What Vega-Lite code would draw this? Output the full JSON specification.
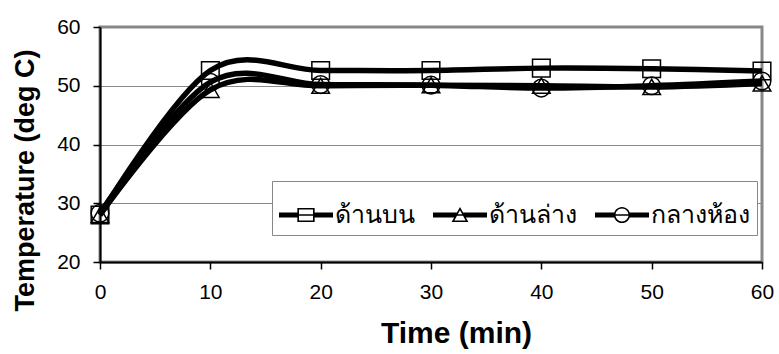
{
  "$schema": "https://vega.github.io/schema/vega-lite/v6.json",
  "width": 662,
  "height": 235,
  "autosize": "none",
  "padding": {"left": 100, "top": 27, "right": 17, "bottom": 92},
  "background": "white",
  "config": {
    "view": {"stroke": "#888888", "strokeWidth": 3},
    "font": "Liberation Sans"
  },
  "data": {
    "values": [
      {"series": "ด้านบน", "time": 0, "temp": 28.0},
      {"series": "ด้านบน", "time": 10, "temp": 52.6},
      {"series": "ด้านบน", "time": 20, "temp": 52.6},
      {"series": "ด้านบน", "time": 30, "temp": 52.6},
      {"series": "ด้านบน", "time": 40, "temp": 53.0},
      {"series": "ด้านบน", "time": 50, "temp": 52.9},
      {"series": "ด้านบน", "time": 60, "temp": 52.5},
      {"series": "ด้านล่าง", "time": 0, "temp": 28.0},
      {"series": "ด้านล่าง", "time": 10, "temp": 49.3},
      {"series": "ด้านล่าง", "time": 20, "temp": 50.0},
      {"series": "ด้านล่าง", "time": 30, "temp": 50.1},
      {"series": "ด้านล่าง", "time": 40, "temp": 50.0},
      {"series": "ด้านล่าง", "time": 50, "temp": 49.8},
      {"series": "ด้านล่าง", "time": 60, "temp": 50.4},
      {"series": "กลางห้อง", "time": 0, "temp": 28.3},
      {"series": "กลางห้อง", "time": 10, "temp": 50.6},
      {"series": "กลางห้อง", "time": 20, "temp": 50.2},
      {"series": "กลางห้อง", "time": 30, "temp": 50.1},
      {"series": "กลางห้อง", "time": 40, "temp": 49.6},
      {"series": "กลางห้อง", "time": 50, "temp": 50.0},
      {"series": "กลางห้อง", "time": 60, "temp": 50.8}
    ]
  },
  "encoding": {
    "x": {
      "field": "time",
      "type": "quantitative",
      "scale": {"domain": [0, 60], "nice": false, "zero": false},
      "axis": {
        "values": [0, 10, 20, 30, 40, 50, 60],
        "grid": false,
        "domainColor": "black",
        "domainWidth": 2,
        "tickColor": "black",
        "tickWidth": 1.5,
        "tickSize": 7,
        "labelFontSize": 21,
        "labelColor": "black",
        "labelPadding": 12,
        "labelFlush": false,
        "labelOverlap": false,
        "title": "Time (min)",
        "titleFontSize": 30,
        "titleFontWeight": "bold",
        "titleColor": "black",
        "titleX": 356,
        "titleY": 80,
        "titleBaseline": "alphabetic",
        "titleAlign": "center"
      }
    },
    "y": {
      "field": "temp",
      "type": "quantitative",
      "scale": {"domain": [20, 60], "nice": false, "zero": false},
      "axis": {
        "values": [20, 30, 40, 50, 60],
        "grid": true,
        "gridColor": "#888888",
        "gridWidth": 1,
        "domainColor": "black",
        "domainWidth": 2,
        "tickColor": "black",
        "tickWidth": 1.5,
        "tickSize": 7,
        "labelFontSize": 21,
        "labelColor": "black",
        "labelPadding": 13,
        "labelOverlap": false,
        "title": "Temperature (deg C)",
        "titleFontSize": 27,
        "titleFontWeight": "bold",
        "titleColor": "black",
        "titleX": -67,
        "titleY": 153,
        "titleBaseline": "alphabetic",
        "titleAlign": "center",
        "titleAngle": 270
      }
    }
  },
  "layer": [
    {
      "mark": {"type": "line", "interpolate": "cardinal", "strokeWidth": 5.5, "color": "black", "clip": false},
      "encoding": {"detail": {"field": "series", "type": "nominal"}}
    },
    {
      "mark": {"type": "point", "filled": false, "size": 310, "strokeWidth": 1.5, "color": "black", "opacity": 1, "clip": false},
      "encoding": {
        "shape": {
          "field": "series",
          "type": "nominal",
          "sort": null,
          "scale": {"domain": ["ด้านบน", "ด้านล่าง", "กลางห้อง"], "range": ["square", "triangle-up", "circle"]},
          "legend": null
        }
      }
    },
    {
      "mark": {"type": "point", "filled": true, "size": 1, "color": "black", "opacity": 0, "clip": false},
      "encoding": {
        "shape": {
          "field": "series",
          "type": "nominal",
          "sort": null,
          "scale": {
            "domain": ["ด้านบน", "ด้านล่าง", "กลางห้อง"],
            "range": [
              "M-1,-0.09H-0.32V0.09H-1Z M0.32,-0.09H1V0.09H0.32Z M-0.32,-0.26H0.32V0.26H-0.32Z M-0.26,-0.2V0.2H0.26V-0.2Z M-0.26,-0.025H0.26V0.025H-0.26Z",
              "M-1,-0.09L-0.116,-0.09L-0.216,0.09L-1,0.09Z M0.116,-0.09L1,-0.09L1,0.09L0.216,0.09Z M0,-0.3L0.31,0.26L-0.31,0.26Z M0,-0.176L-0.208,0.2L0.208,0.2Z M-0.16,-0.025H0.16V0.025H-0.16Z",
              "M-1,-0.09H-0.28V0.09H-1Z M0.28,-0.09H1V0.09H0.28Z M0.3,0C0.3,0.1657 0.1657,0.3 0,0.3C-0.1657,0.3 -0.3,0.1657 -0.3,0C-0.3,-0.1657 -0.1657,-0.3 0,-0.3C0.1657,-0.3 0.3,-0.1657 0.3,0Z M0.24,0C0.24,-0.1326 0.1326,-0.24 0,-0.24C-0.1326,-0.24 -0.24,-0.1326 -0.24,0C-0.24,0.1326 -0.1326,0.24 0,0.24C0.1326,0.24 0.24,0.1326 0.24,0Z M-0.24,-0.025H0.24V0.025H-0.24Z"
            ]
          },
          "legend": {
            "orient": "none",
            "legendX": 172,
            "legendY": 154,
            "direction": "horizontal",
            "columns": 3,
            "title": null,
            "symbolSize": 2916,
            "symbolOpacity": 1,
            "symbolFillColor": "black",
            "symbolStrokeColor": "transparent",
            "symbolStrokeWidth": 0,
            "labelFontSize": 25,
            "labelFont": "Noto Sans, DejaVu Sans, sans-serif",
            "labelColor": "black",
            "labelOffset": 2,
            "columnPadding": 18,
            "padding": 7,
            "strokeColor": "#888888",
            "fillColor": "white"
          }
        }
      }
    }
  ],
  "resolve": {"scale": {"shape": "independent"}, "legend": {"shape": "independent"}}
}
